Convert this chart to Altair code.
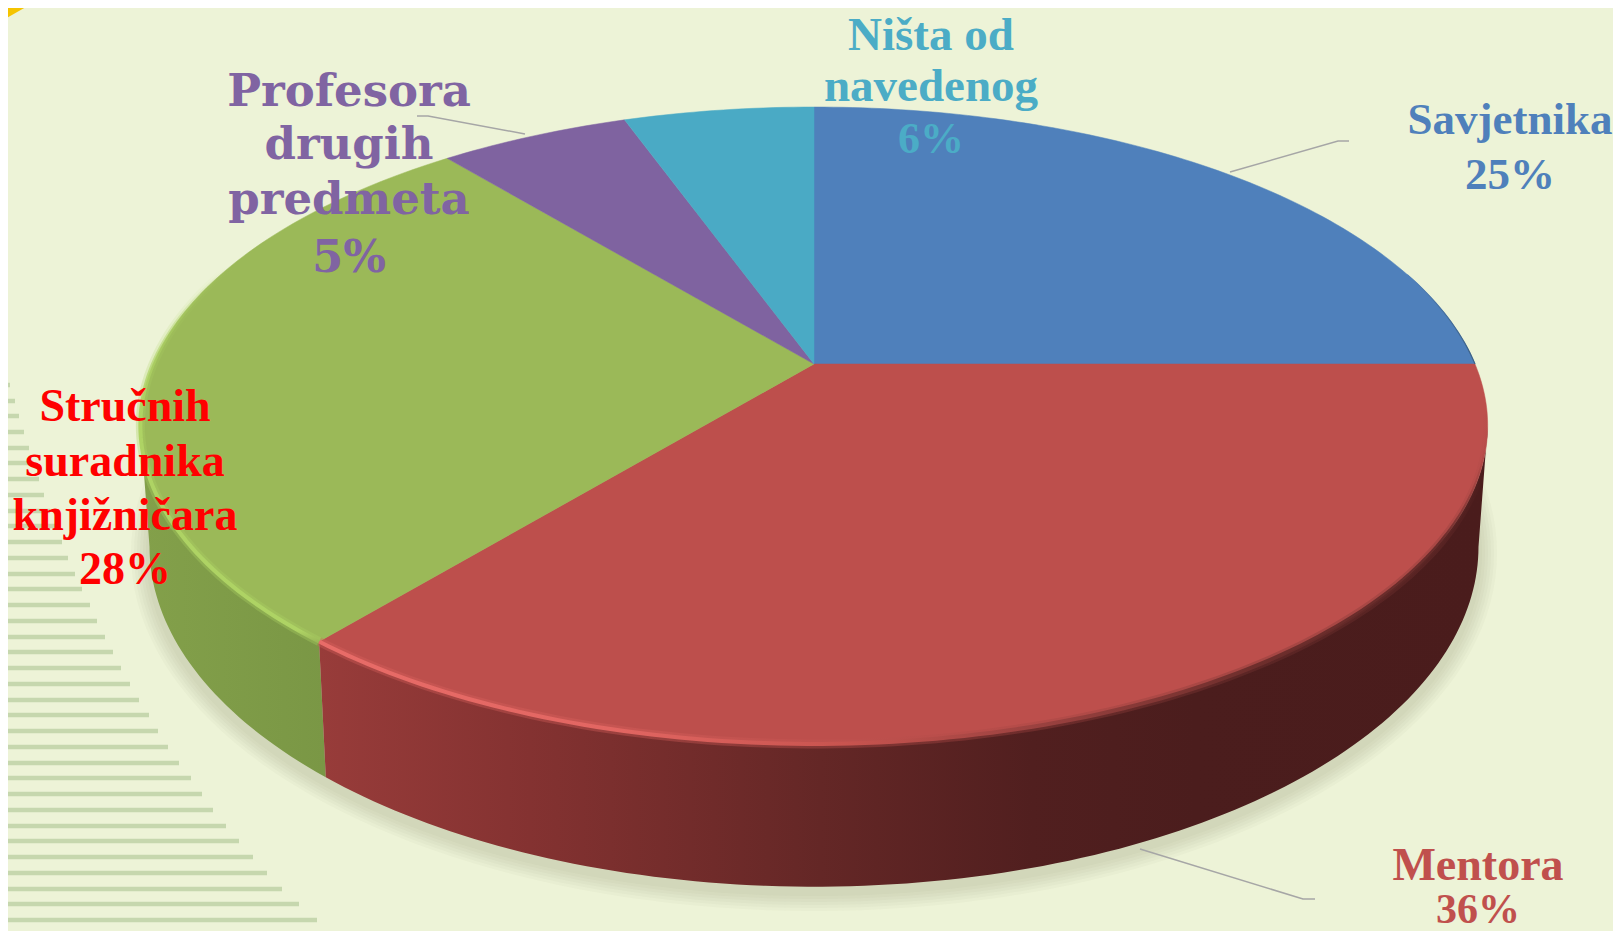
import math
import altair as alt
import pandas as pd

# ---- values ----
names = ["Savjetnika", "Mentora", "Stručnih suradnika knjižničara", "Profesora drugih predmeta", "Ništa od navedenog"]
shares = [25, 36, 28, 5.5, 5.5]   # drawn share (labels round these)
top_colors = ["#4F80BB", "#BD4F4C", "#9BB958", "#7F63A0", "#4AAAC5"]

label_lines = ["Savjetnika", "25%", "Mentora", "36%", "Stručnih", "suradnika", "knjižničara", "28%",
               "Ništa od", "navedenog", "6%"]
label_x = [1510, 1510, 1478, 1478, 125, 125, 125, 125, 931, 931, 931]
label_y = [120, 175, 866, 910, 407, 462, 516, 570, 36, 87, 140]
label_col = ["#4F80BB"] * 2 + ["#C0504D"] * 2 + ["#FF0000"] * 4 + ["#4BACC6"] * 3
label_size = [45, 45, 46, 42, 46, 46, 46, 46, 47, 47, 44]

purple_lines = ["Profesora", "drugih", "predmeta", "5%"]
purple_x = [349, 349, 349, 349]
purple_y = [92, 145, 200, 258]

stripe_y = [353, 369, 385, 401, 416, 432, 448, 463, 479, 495, 511, 526, 542, 558, 574, 589, 605, 621, 637,
            652, 668, 684, 700, 715, 731, 747, 763, 778, 794, 810, 826, 841, 857, 873, 889, 904, 920, 935]
stripe_x = [2, 5, 10, 15, 19, 24, 29, 33, 39, 44, 50, 56, 62, 68, 75, 82, 90, 97, 105,
            113, 121, 130, 139, 149, 158, 168, 179, 191, 202, 213, 226, 239, 253, 267, 282, 299, 317, 345]

lead_group = ["a", "a", "a", "b", "b", "b", "c", "c", "c"]
lead_x = [1230, 1338, 1349, 1140, 1303, 1315, 525, 428, 417]
lead_y = [172, 141, 141, 849, 899, 899, 134, 116, 116]

# ---- pie geometry (perspective view of a disc) ----
K = -0.193
CX = 814
TOP = dict(a=661, b=306.6, y0=364)
LOW = dict(a=652, b=327.4, y0=481)


def pt(deg, f):
    t = math.radians(deg)
    d = 1 - K * math.cos(t)
    return [CX + f["a"] * math.sin(t) / d, f["y0"] - f["b"] * math.cos(t) / d]


def arc(a, b, f, step=1.0):
    n = max(2, int(abs(b - a) / step) + 1)
    return [pt(a + (b - a) * i / (n - 1), f) for i in range(n)]


def poly(points):
    pts = points + [points[0]]
    return {"type": "Feature", "properties": {}, "geometry": {"type": "Polygon", "coordinates": [pts]}}


def line(points):
    return {"type": "Feature", "properties": {}, "geometry": {"type": "LineString", "coordinates": points}}


PROJ = dict(type="identity", scale=1, translate=[-8, -8])


def shape(feature, **mark):
    return alt.Chart(alt.Data(values=[feature])).mark_geoshape(**mark).project(**PROJ)


def grad(stops, vertical=False):
    if vertical:
        return alt.Gradient(gradient="linear", x1=0, x2=0, y1=0, y2=1,
                            stops=[alt.GradientStop(offset=o, color=c) for o, c in stops])
    return alt.Gradient(gradient="linear", x1=0, x2=1, y1=0, y2=0,
                        stops=[alt.GradientStop(offset=o, color=c) for o, c in stops])


total = sum(shares)
edges = [0]
for v in shares:
    edges.append(edges[-1] + v / total * 360)

theta_r = math.degrees(math.acos(K))
theta_l = 360 - theta_r
split = edges[2]

layers = []

# page decoration
layers.append(shape(poly([[0, 0], [38, 0], [0, 22]]), fill="#F5C400"))
stripes = pd.DataFrame({"x": [8] * len(stripe_y), "x2": stripe_x, "y": stripe_y})
stripes = stripes[stripes["x2"] > 8]
xs = alt.Scale(domain=[8, 1613], range=[0, 1605])
ys = alt.Scale(domain=[8, 931], range=[0, 923])
layers.append(alt.Chart(stripes).mark_rule(color="#C6D7AE", strokeWidth=4.5, clip=True).encode(
    x=alt.X("x:Q", scale=xs, axis=None), x2="x2:Q", y=alt.Y("y:Q", scale=ys, axis=None)))

# soft shadow under the disc
for grow in [18, 15, 12, 9, 6, 3]:
    ring = [[CX + (665 + grow) * math.sin(math.radians(d)), 553 + (340 + grow) * math.cos(math.radians(d))]
            for d in range(0, 360, 2)]
    layers.append(shape(poly(ring), fill="#56683A", fillOpacity=0.032))

# side walls
green_side = arc(split, theta_l, TOP) + arc(theta_l, split, LOW)
layers.append(shape(poly(green_side), fill=grad([(0, "#83A04A"), (1, "#7A9745")])))
red_side = arc(theta_r, split, TOP) + arc(split, theta_r, LOW)
layers.append(shape(poly(red_side), fill=grad([(0, "#983C3A"), (0.18, "#843231"), (0.43, "#642726"),
                                               (0.61, "#511F1F"), (0.75, "#4B1D1D"), (1, "#4A1C1C")])))

# top face
for i, col in enumerate(top_colors):
    wedge = [[CX, TOP["y0"]]] + arc(edges[i], edges[i + 1], TOP)
    layers.append(shape(poly(wedge), fill=col, stroke=col, strokeWidth=0.5))

# rim highlights
red_rim = arc(split, theta_r - 2, TOP)
layers.append(shape(line(red_rim), filled=False, strokeWidth=9, strokeOpacity=0.35,
                    stroke=grad([(0, "#D9605C"), (0.3, "#D9605C"), (0.55, "#B04A47"), (0.8, "#7A3533"),
                                 (0.96, "rgba(122,53,51,0.8)"), (1, "rgba(122,53,51,0)")])))
layers.append(shape(line(red_rim), filled=False, strokeWidth=4,
                    stroke=grad([(0, "#E86C68"), (0.25, "#E26662"), (0.45, "#C8544F"), (0.6, "#9E4341"), (0.8, "#6E2E2C"),
                                 (0.96, "rgba(90,37,36,0.8)"), (1, "rgba(90,37,36,0)")])))
green_rim = arc(split, 290, TOP)
layers.append(shape(line(green_rim), filled=False, strokeWidth=9, strokeOpacity=0.35,
                    stroke=grad([(0, "rgba(170,208,98,0)"), (0.4, "rgba(170,208,98,1)"), (1, "rgba(170,208,98,1)")], vertical=True)))
layers.append(shape(line(green_rim), filled=False, strokeWidth=4,
                    stroke=grad([(0, "rgba(174,211,100,0)"), (0.4, "rgba(174,211,100,1)"), (0.97, "rgba(174,211,100,1)"),
                                 (1, "rgba(155,185,88,1)")], vertical=True)))
layers.append(shape(line(arc(72, edges[1], TOP)), filled=False, strokeWidth=1.2,
                    stroke=grad([(0, "#4F80BB"), (1, "#3C6086")])))

# leader lines
leaders = pd.DataFrame({"g": lead_group, "x": lead_x, "y": lead_y, "o": range(len(lead_x))})
layers.append(alt.Chart(leaders).mark_line(color="#A6A6A6", strokeWidth=1.5).encode(
    x=alt.X("x:Q", scale=xs, axis=None), y=alt.Y("y:Q", scale=ys, axis=None), detail="g:N", order="o:Q"))

# labels
labels = pd.DataFrame({"t": label_lines, "x": label_x, "y": label_y, "c": label_col, "s": label_size})
layers.append(alt.Chart(labels).mark_text(font="Liberation Serif", fontWeight="bold", baseline="middle", align="center").encode(
    x=alt.X("x:Q", scale=xs, axis=None), y=alt.Y("y:Q", scale=ys, axis=None), text="t:N",
    color=alt.Color("c:N", scale=None),
    size=alt.Size("s:Q", scale=None)))
purple = pd.DataFrame({"t": purple_lines, "x": purple_x, "y": purple_y})
layers.append(alt.Chart(purple).mark_text(font="DejaVu Serif", fontWeight="bold", baseline="middle", align="center",
                                          color="#8064A2", fontSize=45).encode(
    x=alt.X("x:Q", scale=xs, axis=None), y=alt.Y("y:Q", scale=ys, axis=None), text="t:N"))

chart = alt.layer(*layers).properties(
    width=1605, height=923, background="#EDF3D7", padding=0,
    autosize=alt.AutoSizeParams(type="none"),
).resolve_scale(x="shared", y="shared").configure_view(stroke=None)

chart.save("out.html", embed_options={"renderer": "svg", "actions": False})
